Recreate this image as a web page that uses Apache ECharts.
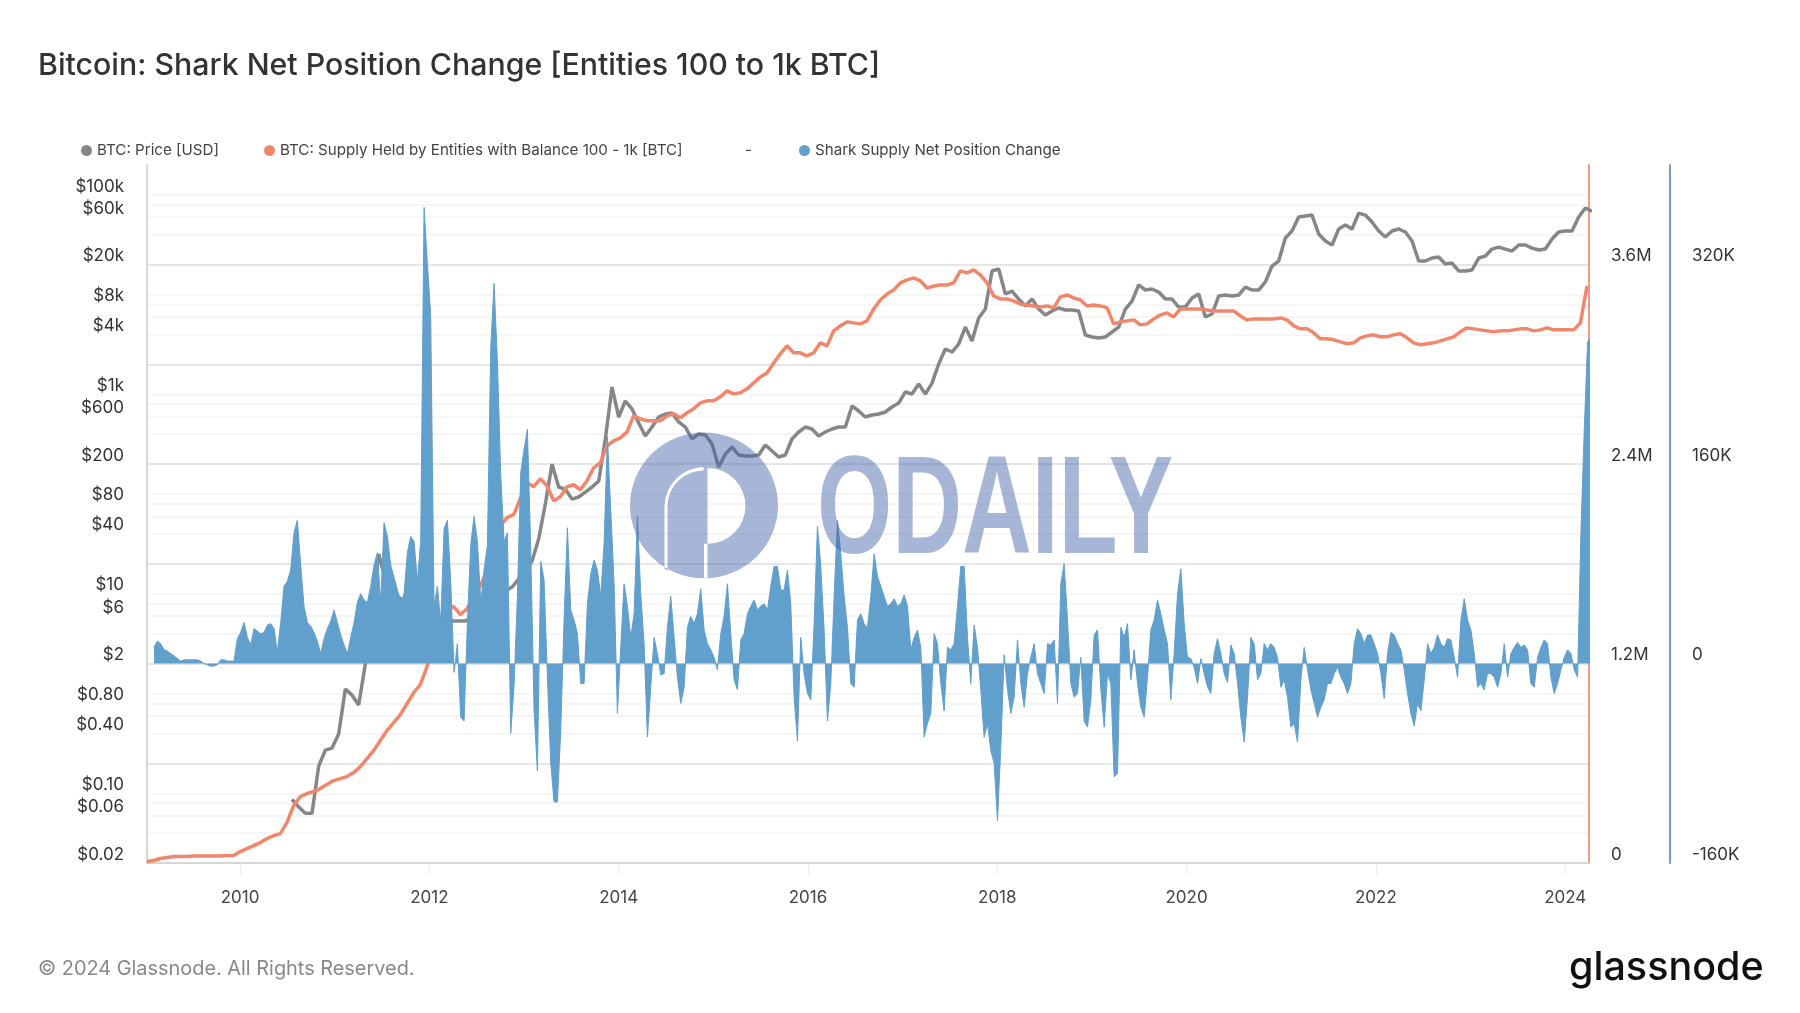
<!DOCTYPE html>
<html style="height: 100%">

<head>
    <meta charset="utf-8">
    <script type="text/javascript" src="https://cdn.jsdelivr.net/npm/echarts@6/dist/echarts.min.js"></script>
</head>

<body style="height: 100%; margin: 0; background: #fff">
    <div id="container" style="width: 1800px; height: 1013px"></div>
    <script type="text/javascript">
        // sample spacing, in decimal years
        var lineStep = 0.07043;
        var changeStep = 0.03522;
        var priceStart = 2010.5493;
        var supplyStart = 2009.0175;
        var changeStart = 2009.0915;

        // BTC: Price [USD]
        var priceValues = [
            0.087, 0.073, 0.063, 0.063, 0.187, 0.271, 0.284, 0.393, 1.11, 0.966, 0.767, 1.98, 7.38, 25.1, 14.1, 11.2,
            9.29, 8.09, 7.04, 6.27, 5.59, 4.98, 4.65, 5.1, 5.34, 5.34, 5.34, 5.85, 7.04, 8.87, 9.96, 10.7,
            10.7, 11.7, 14.1, 17.7, 21.3, 35.5, 79.6, 200, 118, 112, 89.3, 93.6, 105, 118, 135, 358,
            1186, 594, 859, 715, 517, 383, 471, 594, 637, 652, 530, 471, 358, 401, 392, 318,
            187, 252, 297, 247, 241, 241, 247, 311, 271, 236, 247, 358, 420, 471, 450, 383,
            420, 450, 471, 471, 766, 682, 594, 622, 637, 667, 748, 820, 1059, 1010, 1271, 1010,
            1300, 2018, 2858, 2663, 3206, 4743, 3436, 5838, 7192, 17300, 18120, 10170, 10890, 9060, 7710, 9060,
            7192, 6260, 6870, 7360, 7030, 7030, 6870, 3945, 3770, 3680, 3770, 4230, 4743, 7192, 8650, 12530,
            11150, 11410, 10640, 9060, 9060, 7530, 7530, 9270, 10170, 5980, 6410, 9710, 9930, 9710, 9930, 11940,
            11150, 11150, 13420, 19400, 21790, 37060, 43550, 60120, 61530, 62950, 40640, 34590, 31550, 45600, 50000, 45600,
            65920, 62950, 53590, 43550, 37930, 43550, 45600, 42560, 34590, 21790, 21790, 23340, 23890, 20330, 20800, 17300,
            17300, 17700, 23340, 24450, 28700, 30060, 28700, 27420, 31550, 31550, 29380, 28060, 28700, 36210, 42560, 43550,
            43550, 60120, 73980, 69000
        ];

        // BTC: Supply Held by Entities with Balance 100 - 1k [BTC], in thousands
        var supplyValues = [
            9, 15, 27, 33, 39, 39, 39, 42, 42, 42, 42, 42, 45, 45, 69, 87,
            105, 123, 147, 165, 177, 244, 346, 400, 418, 430, 448, 472, 496, 508, 520, 544,
            580, 628, 676, 737, 797, 845, 893, 959, 1025, 1073, 1182, 1338, 1428, 1530, 1542, 1494,
            1530, 1596, 1669, 1759, 1891, 2029, 2078, 2096, 2192, 2288, 2264, 2312, 2270, 2180, 2204, 2264,
            2276, 2246, 2300, 2378, 2408, 2510, 2540, 2558, 2594, 2691, 2673, 2661, 2661, 2661, 2691, 2703,
            2679, 2709, 2733, 2769, 2781, 2781, 2805, 2841, 2823, 2829, 2853, 2889, 2925, 2949, 3009, 3064,
            3112, 3070, 3070, 3052, 3070, 3130, 3112, 3202, 3232, 3256, 3250, 3244, 3262, 3334, 3388, 3424,
            3448, 3491, 3509, 3521, 3503, 3460, 3472, 3478, 3478, 3491, 3563, 3551, 3569, 3539, 3491, 3412,
            3394, 3394, 3382, 3364, 3358, 3352, 3346, 3352, 3340, 3406, 3418, 3400, 3388, 3352, 3358, 3352,
            3340, 3244, 3256, 3262, 3268, 3238, 3244, 3274, 3298, 3310, 3286, 3334, 3334, 3334, 3334, 3328,
            3322, 3322, 3322, 3322, 3292, 3268, 3274, 3274, 3274, 3274, 3280, 3268, 3232, 3214, 3214, 3190,
            3154, 3154, 3148, 3136, 3124, 3130, 3160, 3172, 3178, 3166, 3166, 3178, 3184, 3160, 3130, 3118,
            3124, 3130, 3142, 3154, 3166, 3196, 3220, 3214, 3208, 3202, 3196, 3202, 3202, 3208, 3214, 3214,
            3202, 3208, 3220, 3208, 3208, 3208, 3208, 3250, 3472
        ];

        // Shark Supply Net Position Change, in thousands
        var changeValues = [
            13, 18, 16, 11, 10, 8, 6, 4, 2, 3, 3, 3, 3, 3, 2, 0, -1, -2, -2, -1,
            3, 3, 2, 2, 2, 20, 25, 33, 21, 15, 28, 26, 24, 25, 31, 32, 28, 9, 33, 62,
            66, 75, 105, 115, 79, 46, 33, 30, 25, 18, 8, 20, 28, 34, 43, 33, 23, 15, 8, 21,
            33, 49, 56, 51, 49, 62, 79, 89, 49, 113, 102, 79, 69, 59, 49, 56, 89, 102, 98, 66,
            98, 366, 321, 279, 46, 62, 33, 108, 115, 66, -7, 16, -43, -46, 33, 95, 118, 98, 49, 75,
            95, 253, 305, 243, 151, 98,
            105, -56, -17, 54, 153, 172, 188, 91, -38, -86, 82, 67, -11, -80, -111, -111, -54, 35, 109, 43,
            35, 24, -16, -16, 48, 72, 83, 75, 54, 96, 182, 123, 64, -40, 13, 64, 46, 21, 40, 118,
            56, 16, -59, -19, 21, 8, -9, -8, 29, 54, 21, -11, -32, -19, 29, 38, 32, 40, 60, 27,
            16, 11, 5, -5, 24, 38, 64, 24, -13, -21, 19, 24, 40, 46, 51, 43, 46, 48, 43, 62,
            78, 78, 59, 59, 75, 48, -27, -62, 21, -8, -24, -29, 32, 110, 78, 27, -46, -16, 54, 115,
            88, 54, 29, -16, -19, 35, 40, 32,
            29, 54, 88, 70, 62, 54, 46, 48, 52, 46, 48, 55, 46, 11, 21, 27, 13, -59, -48, -40,
            24, 16, -16, -38, 13, 11, 16, 46, 78, 78, 21, -16, 31, 13, -21, -59, -48, -70, -80, -126,
            -67, 7, -21, -40, -27, 19, -16, -35, -8, 5, 16, -8, -16, -24, 16, 15, 19, -32, 64, 80,
            35, -16, -27, -24, 5, -46, -51, -29, 23, 27, -21, -51, -8, -16, -91, -88, 29, 21, 32, -13,
            11, -16, -35, -43, -11, 27, 35, 51, 40, 27, 16, -29, 8, 56, 76, 32, 5, 4, -3, -16,
            4, -8, -19, -24, 8, 20, 8, -8,
            -15, 15, 8, -16, -43, -63, -27, 21, 16, -13, -8, 16, 11, 16, 13, 5, -19, -13, -27, -51,
            -48, -63, -13, 13, -5, -21, -32, -43, -35, -29, -16, -16, -8, -3, -11, -16, -24, -16, 16, 28,
            24, 16, 23, 23, 16, 8, -8, -28, 8, 25, 23, 16, 11, -5, -24, -40, -50, -32, -38, -13,
            16, 8, 13, 23, 16, 13, 20, 19, 5, -11, 35, 52, 35, 27, 8, -19, -16, -21, -8, -8,
            -11, -19, -8, 16, -11, 8, 13, 17, 13, 15, 11, -16, -19, 5, 13, 19, 16, -11, -24, -16,
            -5, 5, 11, 8, -5, -11, 105, 187, 258, 262
        ];

        // tick labels and gridline levels of the axes
        var priceTicks = [0.02, 0.06, 0.1, 0.4, 0.8, 2, 6, 10, 40, 80, 200, 600, 1000, 4000, 8000, 20000, 60000, 100000];
        var majorGrid = [0.2, 2, 20, 200, 2000, 20000];
        var minorGrid = [0.04, 0.06, 0.08, 0.1, 0.4, 0.6, 0.8, 1, 4, 6, 8, 10, 40, 60, 80, 100, 400, 600, 800, 1000,
            4000, 6000, 8000, 10000, 40000, 60000, 80000, 100000];
        var yearTicks = [2010, 2012, 2014, 2016, 2018, 2020, 2022, 2024];

        var legendNames = ['BTC: Price [USD]', 'BTC: Supply Held by Entities with Balance 100 - 1k [BTC]', 'Shark Supply Net Position Change'];
        var fontName = 'Inter';
        var gray = '#868686', orange = '#f2866b', blue = '#619fcc';
        var logoColor = 'rgba(68,100,168,0.47)';

        function toSeries(values, start, step) {
            return values.map(function (v, i) {
                return [start + i * step, v];
            });
        }

        function priceLabel(v) {
            if (v >= 1000) return '$' + Math.round(v / 1000) + 'k';
            if (v >= 1) return '$' + Math.round(v);
            return '$' + v.toFixed(2);
        }

        var dom = document.getElementById("container");
        var myChart = echarts.init(dom);

        var option = {
            backgroundColor: '#fff',
            animation: false,
            textStyle: { fontFamily: fontName },
            title: {
                text: 'Bitcoin: Shark Net Position Change [Entities 100 to 1k BTC]',
                left: 38, top: 51, padding: 0,
                textStyle: { fontFamily: fontName, fontSize: 30.3, fontWeight: 500, color: '#333' }
            },
            legend: legendNames.map(function (name, i) {
                return {
                    data: [name],
                    left: [81, 264, 799][i],
                    top: 143,
                    padding: 0,
                    icon: 'circle',
                    itemWidth: 11,
                    itemHeight: 11,
                    selectedMode: false,
                    textStyle: { fontFamily: fontName, fontSize: 15.15, color: '#444' }
                };
            }),
            grid: { left: 147, right: 211, top: 165, bottom: 150, containLabel: false },
            xAxis: {
                type: 'value',
                min: 2009.0175,
                max: 2024.2511,
                axisLine: { lineStyle: { color: '#d6d6d6', width: 2 } },
                axisTick: {
                    length: 13,
                    lineStyle: { color: '#eeeeee', width: 1 },
                    customValues: yearTicks
                },
                splitLine: { show: false },
                axisLabel: {
                    customValues: yearTicks,
                    margin: 26,
                    fontFamily: fontName,
                    fontSize: 17,
                    color: '#444',
                    formatter: function (v) { return String(v); }
                }
            },
            yAxis: [
                {
                    type: 'log',
                    min: 0.02,
                    max: 200000,
                    position: 'left',
                    axisLine: { show: true, lineStyle: { color: '#d6d6d6', width: 2 } },
                    axisTick: { show: false, customValues: majorGrid },
                    splitLine: { show: true, lineStyle: { color: '#dedede', width: 1.5 } },
                    axisLabel: {
                        customValues: priceTicks,
                        margin: 23,
                        verticalAlign: 'bottom',
                        fontFamily: fontName,
                        fontSize: 17,
                        color: '#333',
                        formatter: priceLabel
                    }
                },
                {
                    type: 'value',
                    min: 0,
                    max: 4200,
                    interval: 1200,
                    position: 'right',
                    axisLine: { show: true, lineStyle: { color: '#f29a84', width: 2 } },
                    axisTick: { show: false },
                    splitLine: { show: false },
                    axisLabel: {
                        margin: 22,
                        verticalAlign: 'bottom',
                        fontFamily: fontName,
                        fontSize: 17,
                        color: '#333',
                        showMaxLabel: false,
                        formatter: function (v) { return v === 0 ? '0' : (v / 1000) + 'M'; }
                    }
                },
                {
                    type: 'value',
                    min: -160,
                    max: 400,
                    interval: 160,
                    position: 'right',
                    offset: 81,
                    axisLine: { show: true, lineStyle: { color: '#6f9fc7', width: 2 } },
                    axisTick: { show: false },
                    splitLine: { show: false },
                    axisLabel: {
                        margin: 22,
                        verticalAlign: 'bottom',
                        fontFamily: fontName,
                        fontSize: 17,
                        color: '#333',
                        showMaxLabel: false,
                        formatter: function (v) { return v === 0 ? '0' : v + 'K'; }
                    }
                },
                {
                    // only carries the faint gridlines
                    type: 'log',
                    min: 0.02,
                    max: 200000,
                    position: 'left',
                    axisLine: { show: false },
                    axisTick: { show: false, customValues: minorGrid },
                    axisLabel: { show: false },
                    splitLine: { show: true, lineStyle: { color: '#f3f3f3', width: 1.5 } }
                }
            ],
            series: [
                {
                    name: legendNames[0],
                    type: 'line',
                    yAxisIndex: 0,
                    data: toSeries(priceValues, priceStart, lineStep),
                    showSymbol: false,
                    symbol: 'circle',
                    itemStyle: { color: gray },
                    lineStyle: { color: gray, width: 3.5 },
                    z: 3
                },
                {
                    name: legendNames[1],
                    type: 'line',
                    yAxisIndex: 1,
                    data: toSeries(supplyValues, supplyStart, lineStep),
                    showSymbol: false,
                    symbol: 'circle',
                    itemStyle: { color: orange },
                    lineStyle: { color: orange, width: 3.5 },
                    z: 4
                },
                {
                    name: legendNames[2],
                    type: 'line',
                    yAxisIndex: 2,
                    data: toSeries(changeValues, changeStart, changeStep),
                    showSymbol: false,
                    symbol: 'circle',
                    itemStyle: { color: blue },
                    lineStyle: { color: blue, width: 1 },
                    areaStyle: { color: blue, opacity: 1 },
                    z: 5
                },
                {
                    // watermark, sits over the marks
                    type: 'custom',
                    coordinateSystem: 'none',
                    silent: true,
                    z: 100,
                    data: [0],
                    renderItem: function () {
                        return {
                            type: 'path',
                            shape: {
                                pathData: 'M630 505.5A74 73 0 1 1 778 505.5A74 73 0 1 1 630 505.5Z' +
                                    'M707.5 468L707.5 544A38 38 0 0 0 707.5 468Z' +
                                    'M704 544L704 578.7L707.5 578.7L707.5 544Z' +
                                    'M703.5 467A40 40 0 0 0 664.5 506L664.5 569L667.5 571L667.5 506A36 36 0 0 1 703.5 470.5Z',
                                x: 630, y: 432.5, width: 148, height: 146,
                                layout: 'cover'
                            },
                            style: { fill: logoColor }
                        };
                    }
                }
            ],
            graphic: [
                { type: 'text', x: 38, y: 959, style: { text: '© 2024 Glassnode. All Rights Reserved.', font: '400 19.9px Inter', fill: '#888' } },
                { type: 'text', x: 745, y: 143, style: { text: '-', font: '400 15px Inter', fill: '#444' } },
                { type: 'text', x: 1569, y: 948, style: { text: 'glassnode', font: '500 39.5px Inter', fill: '#111' } },
                {
                    type: 'text',
                    z: 100,
                    x: 817,
                    y: 444,
                    scaleX: 0.69,
                    style: { text: 'ODAILY', font: '700 140px "Liberation Sans"', fill: logoColor }
                }
            ]
        };

        myChart.setOption(option, true);
    </script>
</body>

</html>
